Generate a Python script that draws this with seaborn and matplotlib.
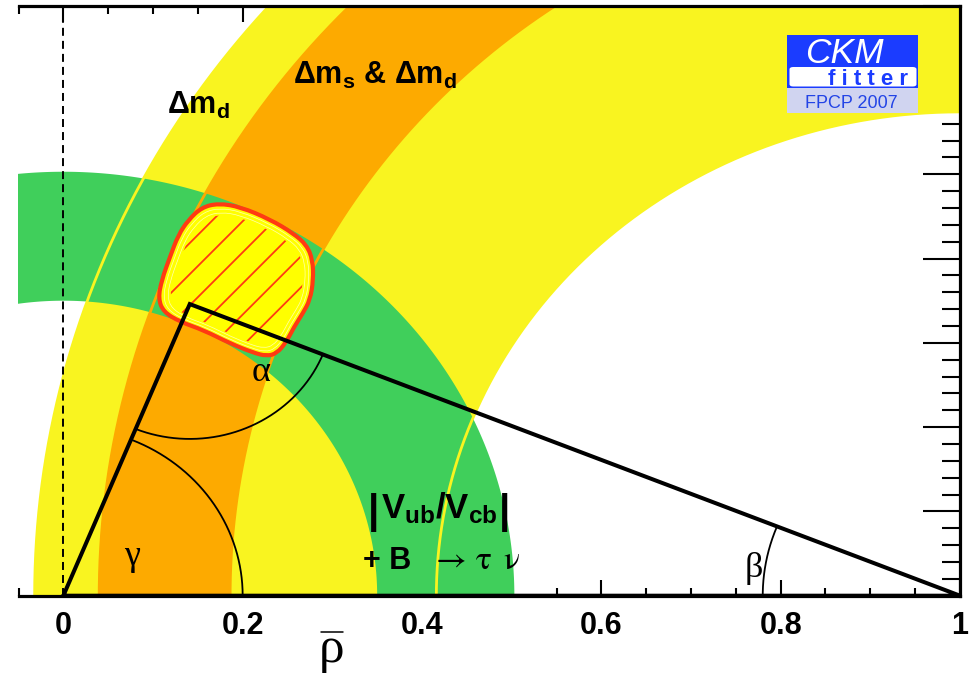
import numpy as np
import matplotlib
matplotlib.use("Agg")
import matplotlib.pyplot as plt
from matplotlib.path import Path
from matplotlib.patches import PathPatch, Rectangle, FancyBboxPatch
from matplotlib.lines import Line2D
import seaborn as sns

# ---------------- constraint bands: elliptic annuli (half-width along rho, along eta)
dmd_center = (1.0, 0.0)          # Delta m_d
dmd_inner = (0.584, 0.574)
dmd_outer = (1.032, 1.052)
dms_center = (1.0, 0.0)          # Delta m_s & Delta m_d
dms_inner = (0.814, 0.841)
dms_outer = (0.960, 0.992)
vub_center = (0.0, 0.0)          # |Vub/Vcb| + B -> tau nu
vub_inner = (0.350, 0.350)
vub_outer = (0.503, 0.503)

# ---------------- global fit contour (rho-bar, eta-bar)
fit_rho = [0.1394, 0.1543, 0.1729, 0.1971, 0.2305, 0.2565, 0.2714, 0.2781,
           0.2788, 0.2751, 0.2670, 0.2573, 0.2484, 0.2380, 0.2268, 0.2119,
           0.1859, 0.1561, 0.1301, 0.1115, 0.1059, 0.1097, 0.1190, 0.1282]
fit_eta = [0.4457, 0.4607, 0.4655, 0.4614, 0.4465, 0.4299, 0.4160, 0.3982,
           0.3745, 0.3508, 0.3350, 0.3188, 0.3006, 0.2875, 0.2843, 0.2883,
           0.2994, 0.3152, 0.3250, 0.3369, 0.3528, 0.3745, 0.4021, 0.4279]

# ---------------- unitarity triangle
apex_rho = 0.141
apex_eta = 0.346
alpha_radius = 0.16
beta_radius = 0.22
gamma_radius = 0.20

x_major = [0.0, 0.2, 0.4, 0.6, 0.8, 1.0]
x_labels = ["0", "0.2", "0.4", "0.6", "0.8", "1"]

# ---------------- colours
YELLOW = "#F9F420"
ORANGE = "#FDAA00"
GREEN = "#40CF5B"
FIT_FILL = "#FFFF00"
FIT_RED = "#FF3A12"
LOGO_BLUE = "#1B3CFF"

sns.set_theme(style="ticks", rc={"text.color": "black", "axes.edgecolor": "black",
                                 "xtick.color": "black", "ytick.color": "black",
                                 "axes.labelcolor": "black"})
plt.rcParams["font.family"] = ["Liberation Sans", "DejaVu Sans"]
plt.rcParams["mathtext.fontset"] = "custom"
plt.rcParams["mathtext.rm"] = "Liberation Sans"
plt.rcParams["mathtext.bf"] = "Liberation Sans:bold"
plt.rcParams["mathtext.it"] = "Liberation Sans:italic"
plt.rcParams["mathtext.sf"] = "Liberation Sans"

W, H = 979, 676
fig = plt.figure(figsize=(W / 100, H / 100), dpi=100)
ax = fig.add_axes([18.5 / W, 80.3 / H, 941.5 / W, 590 / H])
ax.set_xlim(-0.05, 1.0)
ax.set_ylim(0.0, 0.7)
ax.set_facecolor("white")


def annulus(center, inner, outer, n=600):
    t = np.linspace(0, np.pi, n)
    ox = center[0] + outer[0] * np.cos(t)
    oy = center[1] + outer[1] * np.sin(t)
    ix = center[0] + inner[0] * np.cos(t[::-1])
    iy = center[1] + inner[1] * np.sin(t[::-1])
    return np.r_[ox, ix], np.r_[oy, iy]


def edge(center, ab, n=600):
    t = np.linspace(0, np.pi, n)
    return center[0] + ab[0] * np.cos(t), center[1] + ab[1] * np.sin(t)


# filled constraint regions
for c, i, o, col, z in [(dmd_center, dmd_inner, dmd_outer, YELLOW, 1),
                        (dms_center, dms_inner, dms_outer, ORANGE, 2),
                        (vub_center, vub_inner, vub_outer, GREEN, 3)]:
    xs, ys = annulus(c, i, o)
    ax.fill(xs, ys, color=col, lw=0, zorder=z)

# contour outlines of the B-mixing bands stay visible on top of the green band
for c, ab, col in [(dmd_center, dmd_inner, YELLOW), (dmd_center, dmd_outer, YELLOW),
                   (dms_center, dms_inner, ORANGE), (dms_center, dms_outer, ORANGE)]:
    ex, ey = edge(c, ab)
    ax.plot(ex, ey, color=col, lw=2.0, zorder=4, solid_capstyle="butt")


# smooth closed outline of the global fit
def smooth_path(px, py, scale=1.0):
    pts = np.column_stack([px, py])
    cen = pts.mean(axis=0)
    pts = cen + scale * (pts - cen)
    mids = (pts + np.roll(pts, -1, axis=0)) / 2
    verts = [mids[-1]]
    codes = [Path.MOVETO]
    for k in range(len(pts)):
        verts += [pts[k], mids[k]]
        codes += [Path.CURVE3, Path.CURVE3]
    return Path(np.array(verts), codes)


fit_patch = PathPatch(smooth_path(fit_rho, fit_eta), facecolor=FIT_FILL,
                      edgecolor=FIT_RED, lw=3.0, zorder=5)
ax.add_patch(fit_patch)
for s in (0.94, 0.89):
    ax.add_patch(PathPatch(smooth_path(fit_rho, fit_eta, s), facecolor="none",
                           edgecolor="#FFFFB0", lw=0.5, zorder=5.5))

# red hatching inside the 68% region, lines at 45 degrees on screen
inner_clip = PathPatch(smooth_path(fit_rho, fit_eta, 0.86), facecolor="none",
                       edgecolor="none", zorder=0)
ax.add_patch(inner_clip)
p0 = ax.transData.transform((0.0, 0.0))
p1 = ax.transData.transform((1.0, 0.7))
slope = ((p1[0] - p0[0]) / 1.0) / ((p1[1] - p0[1]) / 0.7)
spacing = 22.0 * np.sqrt(2) / ((p1[1] - p0[1]) / 0.7)
offsets = 0.2684 - spacing * np.arange(-2, 9)
hx = np.array([0.0, 0.4])
for b in offsets:
    ln, = ax.plot(hx, slope * hx + b, color=FIT_RED, lw=1.3, zorder=6)
    ln.set_clip_path(inner_clip)

# unitarity triangle
tri_rho = [0.0, apex_rho, 1.0, 0.0]
tri_eta = [0.0, apex_eta, 0.0, 0.0]
sns.lineplot(x=tri_rho, y=tri_eta, sort=False, estimator=None, color="black",
             lw=2.9, ax=ax, zorder=8, solid_joinstyle="miter")
ax.lines[-1].set_clip_on(False)

# angle arcs
a_lo = np.arctan2(-apex_eta, -apex_rho)
a_hi = np.arctan2(-apex_eta, 1.0 - apex_rho)
t = np.linspace(a_lo, a_hi, 200)
sns.lineplot(x=apex_rho + alpha_radius * np.cos(t), y=apex_eta + alpha_radius * np.sin(t),
             sort=False, estimator=None, color="black", lw=1.3, ax=ax, zorder=8)
t = np.linspace(np.pi - np.arctan2(apex_eta, 1.0 - apex_rho), np.pi, 200)
sns.lineplot(x=1.0 + beta_radius * np.cos(t), y=beta_radius * np.sin(t),
             sort=False, estimator=None, color="black", lw=1.3, ax=ax, zorder=8)
t = np.linspace(0.0, np.arctan2(apex_eta, apex_rho), 200)
sns.lineplot(x=gamma_radius * np.cos(t), y=gamma_radius * np.sin(t),
             sort=False, estimator=None, color="black", lw=1.3, ax=ax, zorder=8)

# rho = 0 guide
ax.axvline(0.0, color="black", lw=1.4, ls=(0, (4.1, 2.6)), zorder=9)

# labels of the constraints
ax.text(0.1157, 0.5722, r"$\mathbf{\Delta m_d}$", fontsize=22, ha="left", va="baseline", zorder=10)
ax.text(0.2565, 0.6078, r"$\mathbf{\Delta m_s}$ & $\mathbf{\Delta m_d}$", fontsize=22,
        fontweight="bold", ha="left", va="baseline", zorder=10)
ax.text(0.3543, 0.0918, r"$\mathbf{V_{ub}/V_{cb}}$", fontsize=25, ha="left",
        va="baseline", zorder=10)
for bx in (0.3464, 0.4915):
    ax.text(bx, 0.0990, "|", fontsize=29, fontweight="bold", ha="center", va="center", zorder=10)
ax.text(0.3346, 0.0313, "+ B", fontsize=22, fontweight="bold", ha="left", va="baseline", zorder=10)
ax.text(0.4095, 0.0313, r"$\rightarrow\,\mathrm{\tau}\ \,\mathrm{\nu}$", fontsize=24,
        math_fontfamily="stix", ha="left", va="baseline", zorder=10)
greek = ["Liberation Serif", "DejaVu Serif"]
ax.text(0.2205, 0.2654, "α", fontsize=26, family=greek, ha="center", va="center", zorder=10)
ax.text(0.0761, 0.0471, "γ", fontsize=26, family=greek, ha="center", va="center", zorder=10)
ax.text(0.7703, 0.0317, "β", fontsize=26, family=greek, ha="center", va="center", zorder=10)

# axes styling
ax.set_xticks(x_major)
ax.set_xticklabels(x_labels, fontsize=22, fontweight="bold")
ax.set_xticks(np.arange(-0.05, 1.0001, 0.05), minor=True)
ax.set_yticks(np.arange(0.0, 0.7001, 0.1))
ax.set_yticks(np.arange(0.0, 0.7001, 0.02), minor=True)
ax.tick_params(axis="x", which="both", direction="in", top=True, bottom=True,
               labeltop=False, width=1.5, color="black", labelcolor="black", pad=11.0)
ax.tick_params(axis="x", which="major", length=11.5)
ax.tick_params(axis="x", which="minor", length=5.5)
ax.tick_params(axis="y", which="both", direction="in", left=False, right=True,
               labelleft=False, labelright=False, width=1.5, color="black")
ax.tick_params(axis="y", which="major", length=26.5)
ax.tick_params(axis="y", which="minor", length=13)
for side in ("top", "right", "bottom"):
    ax.spines[side].set_visible(True)
    ax.spines[side].set_linewidth(2.3)
    ax.spines[side].set_color("black")
    ax.spines[side].set_zorder(12)
ax.spines["left"].set_visible(False)
ax.set_xlabel("")
ax.set_ylabel("")

# rho-bar axis title
fig.text(331.5 / W, 1 - 662.0 / H, "ρ", fontsize=37, family=greek, color="black",
         ha="center", va="baseline")
fig.add_artist(Line2D([320.5 / W, 342.5 / W], [1 - 631.7 / H, 1 - 631.7 / H],
                      transform=fig.transFigure, color="black", lw=1.1))

# CKMfitter badge
def axfrac(px, py):
    return (px - 18.5) / 941.5, (595.7 - py) / 590


x0, y0 = axfrac(787.3, 88.3)
x1, y1 = axfrac(917.5, 35.0)
ax.add_patch(Rectangle((x0, y0), x1 - x0, y1 - y0, transform=ax.transAxes,
                       facecolor=LOGO_BLUE, edgecolor="none", zorder=20))
wx0, wy0 = axfrac(789.5, 86.5)
wx1, wy1 = axfrac(916.5, 67.0)
ax.add_patch(FancyBboxPatch((wx0, wy0), wx1 - wx0, wy1 - wy0, transform=ax.transAxes,
                            boxstyle="round,pad=0,rounding_size=0.004",
                            facecolor="white", edgecolor="none", zorder=21))
lx0, ly0 = axfrac(787.3, 113.3)
ax.add_patch(Rectangle((lx0, ly0), x1 - lx0, y0 - ly0, transform=ax.transAxes,
                       facecolor="#D0D4F0", edgecolor="none", zorder=20))
tx, ty = axfrac(805, 63.3)
ax.text(tx, ty, "CKM", transform=ax.transAxes, fontsize=25.5, style="italic", color="white",
        ha="left", va="baseline", zorder=22)
tx, ty = axfrac(828, 85.0)
ax.text(tx, ty, "f i t t e r", transform=ax.transAxes, fontsize=16, fontweight="bold",
        color=LOGO_BLUE, ha="left", va="baseline", zorder=22)
tx, ty = axfrac(851, 103.7)
ax.text(tx, ty, "FPCP 2007", transform=ax.transAxes, fontsize=13, color="#2344E6",
        ha="center", va="center", zorder=22)

fig.savefig("out.png", dpi=100)
